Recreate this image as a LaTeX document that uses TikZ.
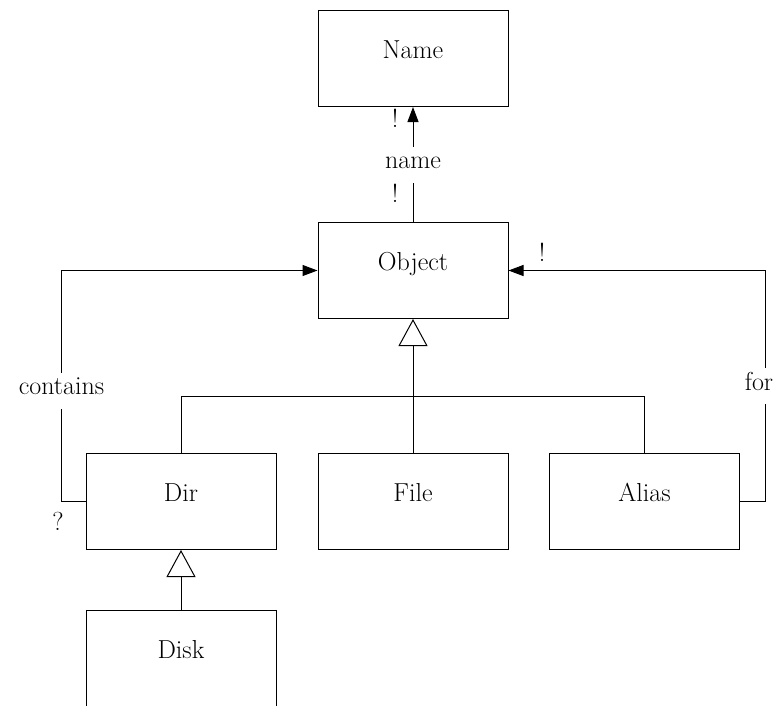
\documentclass[tikz,border=0pt]{standalone}
\usetikzlibrary{arrows.meta,calc}
\begin{document}
\begin{tikzpicture}[x=1pt,y=-1pt,
  every node/.style={font=\fontsize{26}{30}\selectfont},
  cls/.style={draw, line width=1pt, minimum width=190pt, inner sep=0pt,
    text height=48pt, text depth=48pt},
  conn/.style={line width=1pt},
  assoc/.style={conn, -{Triangle[length=15pt,width=11pt]}},
  isa/.style={conn, -{Triangle[open,length=27pt,width=29pt,line width=1pt]}},
  lbl/.style={fill=white, inner xsep=1pt, inner ysep=0pt, text height=22pt, text depth=14pt},
  mult/.style={inner sep=0pt}
]
\clip (0,0) rectangle (777,705);
\fill[white] (0,0) rectangle (777,705);

% classes
\node[cls, anchor=north] (name)  at (413,10)  {Name};
\node[cls, anchor=north] (obj)   at (413,222) {Object};
\node[cls, anchor=north] (dir)   at (181,453) {Dir};
\node[cls, anchor=north] (file)  at (413,453) {File};
\node[cls, anchor=north] (alias) at (644.5,453) {Alias};
\node[cls, anchor=north] (disk)  at (181,610) {Disk};

% association: Object has a name
\draw[assoc] (obj.north) -- node[lbl] {name} (name.south);
\node[mult] (m1) at (395,118) {!};
\node[mult] (m2) at (395,193) {!};

% association: Dir contains Objects
\draw[assoc] (dir.base west) -- ++(-24,0) coordinate (cl)
  |- node[lbl, pos=0.24] {contains} (obj.base west);
\node[mult] (m3) at (58,521) {?};

% association: Alias stands for an Object
\draw[assoc] (alias.base east) -- ++(25,0) coordinate (cr)
  |- node[lbl, pos=0.25, xshift=-6pt] {for} (obj.base east);
\node[mult] (m4) at (542,252) {!};

% generalisation of Dir, File, Alias into Object
\coordinate (join) at (413,396.5);
\draw[isa] (file.north) -- (obj.south);
\draw[conn] (dir.north) |- (join) -| (alias.north);

% Disk specialises Dir
\draw[isa] (disk.north) -- (dir.south);
\end{tikzpicture}
\end{document}
